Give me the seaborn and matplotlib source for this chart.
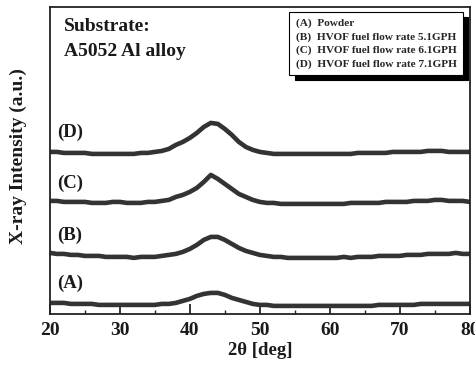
import numpy as np
import pandas as pd
import matplotlib
matplotlib.use("Agg")
import matplotlib.pyplot as plt
import seaborn as sns
from matplotlib.ticker import MultipleLocator

# 2-theta positions (deg), read at 1 deg steps
two_theta = list(range(20, 81))

# intensities (a.u., already stacked with offsets)
int_a = [11, 11, 11, 10, 10, 10, 10, 9, 9, 9,
         9, 9, 9, 9, 9, 9, 10, 10, 11, 13,
         15, 18, 20, 21, 21, 19, 16, 14, 12, 10,
         9, 9, 8, 8, 8, 8, 8, 8, 8, 8,
         8, 8, 8, 8, 8, 8, 8, 9, 9, 9,
         9, 9, 9, 10, 10, 10, 10, 10, 10, 10,
         10]
int_b = [61, 60, 60, 59, 59, 58, 58, 58, 57, 57,
         57, 57, 56, 57, 57, 57, 58, 59, 60, 62,
         65, 69, 74, 77, 77, 74, 70, 66, 63, 61,
         59, 58, 57, 57, 56, 56, 56, 56, 56, 56,
         56, 56, 57, 56, 57, 57, 57, 58, 58, 58,
         58, 59, 59, 59, 60, 60, 60, 60, 61, 60,
         60]
int_c = [113, 113, 112, 112, 112, 112, 111, 111, 111, 112,
         112, 111, 111, 111, 112, 112, 113, 114, 117, 119,
         122, 126, 132, 139, 135, 130, 125, 120, 117, 114,
         112, 111, 111, 110, 110, 110, 110, 110, 110, 110,
         110, 110, 110, 111, 111, 111, 111, 111, 112, 112,
         112, 112, 113, 113, 113, 114, 114, 113, 113, 113,
         112]
int_d = [162, 162, 161, 161, 161, 161, 160, 160, 160, 160,
         160, 160, 160, 161, 161, 162, 163, 165, 169, 172,
         176, 181, 187, 191, 190, 185, 179, 172, 167, 164,
         162, 161, 160, 160, 160, 160, 160, 160, 160, 160,
         160, 160, 160, 160, 161, 161, 161, 161, 161, 162,
         162, 162, 162, 162, 163, 163, 163, 162, 162, 162,
         162]

tags = ["(A)", "(B)", "(C)", "(D)"]
legend_names = ["(A)  Powder",
                "(B)  HVOF fuel flow rate 5.1GPH",
                "(C)  HVOF fuel flow rate 6.1GPH",
                "(D)  HVOF fuel flow rate 7.1GPH"]
tag_heights = [31, 79, 131, 182]

sns.set_theme(style="white")
plt.rcParams['font.family'] = ['Liberation Serif', 'DejaVu Serif']
plt.rcParams['font.weight'] = 'bold'

fig = plt.figure(figsize=(4.75, 3.65), dpi=100)
ax = fig.add_axes([0.105, 0.140, 0.884, 0.841])

series = [int_a, int_b, int_c, int_d]
for vals, name in zip(series, legend_names):
    df = pd.DataFrame({"two_theta": two_theta, "intensity": vals})
    sns.lineplot(data=df, x="two_theta", y="intensity", ax=ax,
                 color="#333333", lw=3.3, label=name)

for tag, h in zip(tags, tag_heights):
    ax.text(21, h, tag, fontsize=13.5, fontweight='bold', va='center', ha='left',
            color='#1a1a1a')

ax.text(22, 287, "Substrate:", fontsize=14, fontweight='bold', va='center',
        color='#1a1a1a')
ax.text(22, 262, "A5052 Al alloy", fontsize=14, fontweight='bold', va='center',
        color='#1a1a1a')

leg = ax.legend(loc='upper right', bbox_to_anchor=(0.983, 0.984), fontsize=8.1,
                handlelength=0, handletextpad=0, frameon=True, fancybox=False,
                shadow={'color': 'black', 'alpha': 1.0, 'ox': 4, 'oy': -4},
                borderpad=0.55, labelspacing=0.3, borderaxespad=0)
for h in leg.legend_handles:
    h.set_visible(False)
leg.get_frame().set_edgecolor('black')
leg.get_frame().set_linewidth(0.8)

ax.set_xlim(20, 80)
ax.set_ylim(0, 307)
ax.set_yticks([])
ax.xaxis.set_major_locator(MultipleLocator(10))
ax.xaxis.set_minor_locator(MultipleLocator(5))
ax.tick_params(axis='x', which='major', direction='in', length=7, width=1.3,
               bottom=True, top=False, labelsize=14, pad=6, labelcolor='#1a1a1a')
ax.tick_params(axis='x', which='minor', direction='in', length=3, width=1.0,
               bottom=True, top=False)
for lab in ax.get_xticklabels():
    lab.set_fontweight('bold')
for sp in ax.spines.values():
    sp.set_color('#222222')
    sp.set_linewidth(1.3)

ax.set_xlabel("2θ [deg]", fontsize=13.5, fontweight='bold', labelpad=2,
              color='#1a1a1a')
ax.set_ylabel("X-ray Intensity (a.u.)", fontsize=14, fontweight='bold',
              color='#1a1a1a')
ax.yaxis.set_label_coords(-0.055, 0.515)

fig.savefig("out.png", dpi=100)
